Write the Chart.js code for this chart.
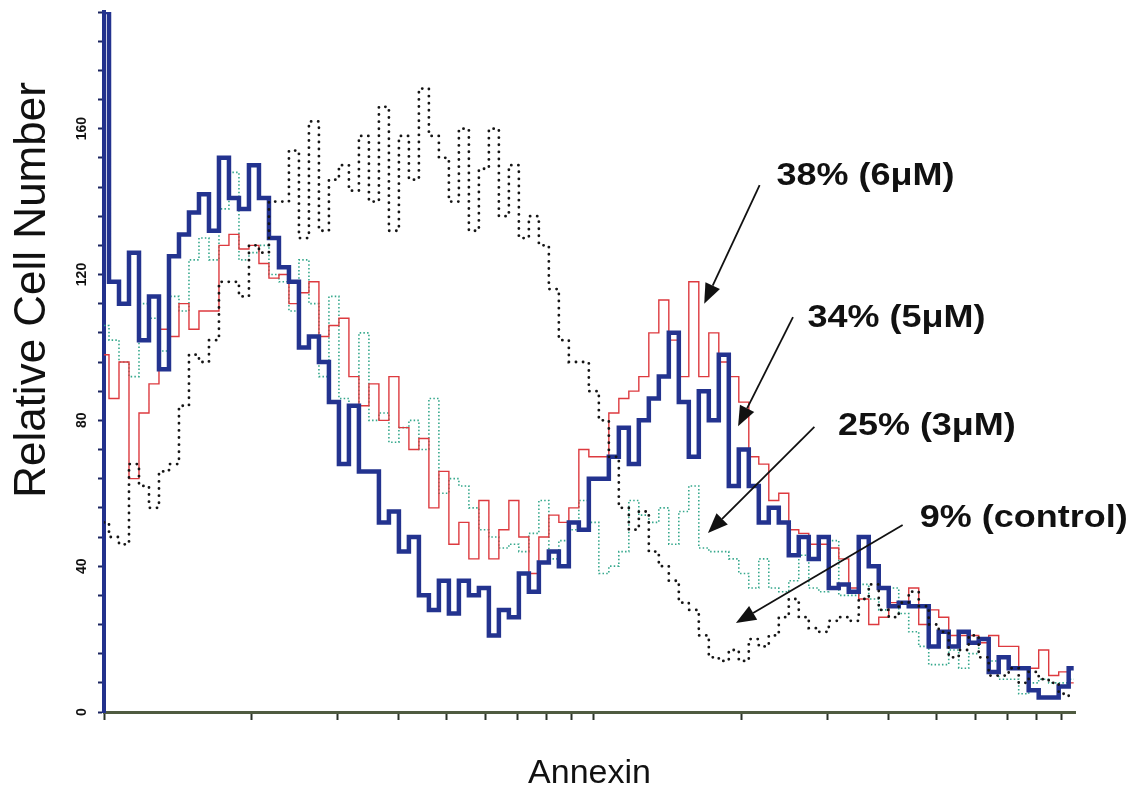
<!DOCTYPE html>
<html>
<head>
<meta charset="utf-8">
<script src="https://cdn.jsdelivr.net/npm/chart.js@4.4.1/dist/chart.umd.min.js"></script>
<style>
  body { margin: 0; background: #fff; }
  #wrap { width: 1140px; height: 800px; position: relative; }
</style>
</head>
<body>
<div id="wrap"><canvas id="myChart"></canvas></div>
<script>
// histogram channels: 49 per decade of annexin intensity, 98 channels shown
const CH_PER_DECADE = 49

// 34% (5uM) - thick blue
const blue5uM = [192, 118, 112, 126, 102, 114, 94, 125, 131, 137,
    142, 132, 152, 141, 138, 150, 141, 130, 122, 118,
    100, 103, 96, 85, 68, 84, 66, 66, 52, 55,
    44, 48, 32, 28, 36, 27, 36, 32, 34, 21,
    28, 26, 38, 33, 41, 44, 40, 52, 50, 64,
    64, 70, 78, 68, 80, 86, 92, 104, 85, 70,
    88, 80, 98, 62, 72, 62, 52, 56, 52, 43,
    48, 42, 48, 34, 35, 33, 48, 40, 34, 29,
    30, 29, 29, 18, 22, 18, 22, 19, 20, 11,
    15, 12, 12, 6, 4, 4, 7, 12]

// 38% (6uM) - thin red
const red6uM = [98, 86, 96, 64, 82, 90, 105, 103, 112, 105,
    110, 110, 128, 131, 127, 128, 123, 119, 120, 112,
    115, 118, 103, 106, 108, 92, 84, 90, 80, 92,
    78, 72, 75, 56, 66, 46, 52, 42, 58, 42,
    50, 58, 48, 38, 48, 54, 52, 56, 72, 70,
    70, 82, 86, 88, 92, 104, 113, 102, 92, 118,
    92, 104, 96, 92, 85, 70, 68, 58, 60, 50,
    49, 46, 46, 45, 42, 34, 31, 24, 26, 30,
    30, 34, 24, 28, 26, 21, 21, 21, 19, 21,
    18, 18, 12, 12, 17, 10, 11, 8]

// 25% (3uM) - green dotted
const green3uM = [106, 102, 96, 92, 112, 108, 99, 114, 110, 124,
    130, 124, 138, 148, 124, 126, 128, 120, 118, 110,
    124, 112, 92, 114, 86, 84, 104, 80, 82, 74,
    78, 80, 72, 86, 60, 64, 62, 56, 50, 48,
    45, 46, 44, 49, 58, 42, 47, 50, 58, 52,
    38, 40, 44, 58, 54, 52, 56, 46, 55, 62,
    45, 44, 44, 42, 38, 34, 42, 34, 33, 36,
    43, 34, 33, 47, 32, 32, 35, 31, 28, 34,
    27, 22, 18, 13, 13, 17, 12, 16, 20, 14,
    9, 9, 5, 8, 9, 8, 8, 9]

// 9% (control) - black dotted
const control = [52, 48, 46, 68, 62, 56, 66, 68, 84, 98,
    96, 102, 118, 118, 114, 128, 126, 140, 140, 154,
    130, 162, 132, 146, 150, 143, 158, 140, 166, 132,
    158, 146, 171, 158, 152, 140, 160, 132, 149, 160,
    136, 150, 130, 136, 128, 116, 102, 96, 96, 88,
    80, 70, 56, 50, 55, 44, 40, 36, 30, 28,
    21, 15, 14, 17, 14, 20, 18, 21, 26, 31,
    26, 23, 22, 25, 26, 25, 31, 35, 28, 26,
    30, 33, 29, 24, 22, 15, 17, 21, 15, 10,
    10, 12, 8, 11, 9, 8, 5, 4]

const xTicks = [1, 2, 3, 4, 5, 6, 7, 8, 9, 10, 20, 30, 40, 50, 60, 70, 80, 90]
const yLabels = [0, 40, 80, 120, 160]

// labels with arrow: text at (textX, textY), arrow from (fromX, fromY) to (toX, toY), all in data units
const labels = [
    { text: '38% (6\u03BCM)', textX: 23.6, textY: 147, fromX: 21.8, fromY: 144.5, toX: 16.8, toY: 112 },
    { text: '34% (5\u03BCM)', textX: 27.3, textY: 108, fromX: 25.5, fromY: 108.3, toX: 19.7, toY: 78.4 },
    { text: '25% (3\u03BCM)', textX: 31.5, textY: 78.2, fromX: 28.2, fromY: 78.2, toX: 17.1, toY: 49.1 },
    { text: '9% (control)', textX: 46.3, textY: 53.2, fromX: 42.7, fromY: 51.3, toX: 19.5, toY: 24.4 },
]

function toPoints(vals) {
    return vals.map(function (v, i) {
        return { x: Math.pow(10, i / CH_PER_DECADE), y: v }
    })
}

const extras = {
    id: 'extras',
    afterDraw(chart) {
        const ctx = chart.ctx
        const xs = chart.scales.x
        const ys = chart.scales.y
        ctx.save()
        ctx.fillStyle = '#111'

        // rotated y tick labels
        ctx.font = 'bold 14px Arial, "Liberation Sans", sans-serif'
        ctx.textAlign = 'center'
        ctx.textBaseline = 'middle'
        yLabels.forEach(function (v) {
            ctx.save()
            ctx.translate(82, ys.getPixelForValue(v))
            ctx.rotate(-Math.PI / 2)
            ctx.fillText(String(v), 0, 0)
            ctx.restore()
        })

        // y axis title
        ctx.save()
        ctx.font = '44px Arial, "Liberation Sans", sans-serif'
        ctx.translate(33, 290)
        ctx.rotate(-Math.PI / 2)
        ctx.fillText('Relative Cell Number', 0, 0)
        ctx.restore()

        // arrows and labels
        labels.forEach(function (l) {
            const x1 = xs.getPixelForValue(l.fromX), y1 = ys.getPixelForValue(l.fromY)
            const x2 = xs.getPixelForValue(l.toX), y2 = ys.getPixelForValue(l.toY)
            const ang = Math.atan2(y2 - y1, x2 - x1)
            const hl = 20, hw = 8
            const bx = x2 - hl * Math.cos(ang), by = y2 - hl * Math.sin(ang)
            ctx.strokeStyle = '#111'
            ctx.lineWidth = 1.8
            ctx.beginPath()
            ctx.moveTo(x1, y1)
            ctx.lineTo(bx, by)
            ctx.stroke()
            ctx.beginPath()
            ctx.moveTo(x2, y2)
            ctx.lineTo(bx + hw * Math.sin(ang), by - hw * Math.cos(ang))
            ctx.lineTo(bx - hw * Math.sin(ang), by + hw * Math.cos(ang))
            ctx.closePath()
            ctx.fill()

            ctx.save()
            ctx.font = 'bold 31px Arial, "Liberation Sans", sans-serif'
            ctx.textAlign = 'left'
            ctx.translate(xs.getPixelForValue(l.textX), ys.getPixelForValue(l.textY))
            ctx.scale(1.16, 1)
            ctx.fillText(l.text, 0, 0)
            ctx.restore()
        })
        ctx.restore()
    }
}

const white = {
    id: 'white',
    beforeDraw(chart) {
        const ctx = chart.ctx
        ctx.save()
        ctx.fillStyle = '#fff'
        ctx.fillRect(0, 0, chart.width, chart.height)
        ctx.restore()
    }
}

let currChart = document.getElementById('myChart').getContext('2d')

Chart.defaults.font.family = 'Arial, "Liberation Sans", sans-serif'
let lineChart = new Chart(currChart, {
    type: 'line',
    data: {
        datasets: [{
            label: '9% (control)',
            data: toPoints(control),
            borderColor: '#151515',
            borderWidth: 2.8,
            borderDash: [0.1, 7],
            borderCapStyle: 'round',
            order: 0,
        }, {
            label: '34% (5uM)',
            data: toPoints(blue5uM),
            borderColor: '#23338f',
            borderWidth: 4.5,
            order: 1,
        }, {
            label: '38% (6uM)',
            data: toPoints(red6uM),
            borderColor: '#dd3a3f',
            borderWidth: 1.4,
            order: 2,
        }, {
            label: '25% (3uM)',
            data: toPoints(green3uM),
            borderColor: '#35a88c',
            borderWidth: 1.6,
            borderDash: [1.5, 2.2],
            order: 3,
        }]
    },
    options: {
        responsive: true,
        maintainAspectRatio: false,
        animation: false,
        stepped: 'middle',
        elements: {
            point: { radius: 0 },
            line: { stepped: 'middle', tension: 0 }
        },
        layout: {
            padding: { top: 12, right: 65, left: 0, bottom: 0 }
        },
        scales: {
            x: {
                type: 'logarithmic',
                min: 1,
                max: 96,
                afterBuildTicks: function (scale) {
                    scale.ticks = xTicks.map(function (v) { return { value: v } })
                },
                afterFit: function (scale) { scale.height = 88 },
                ticks: { display: false },
                grid: {
                    drawOnChartArea: false,
                    tickLength: 8,
                    tickWidth: 2,
                    tickColor: '#2b3328',
                },
                border: { color: '#4f5b40', width: 3 },
                title: {
                    display: true,
                    text: 'Annexin',
                    color: '#111',
                    font: { size: 34 },
                    padding: { top: 0, bottom: 6 }
                }
            },
            y: {
                min: 0,
                max: 192,
                ticks: { display: false, stepSize: 8 },
                afterFit: function (scale) { scale.width = 104 },
                grid: {
                    drawOnChartArea: false,
                    tickLength: 6,
                    tickWidth: 2,
                    tickColor: '#1b2560',
                },
                border: { color: '#22318c', width: 4 },
            }
        },
        plugins: {
            legend: { display: false },
            tooltip: { enabled: false }
        }
    },
    plugins: [white, extras]
})
</script>
</body>
</html>
